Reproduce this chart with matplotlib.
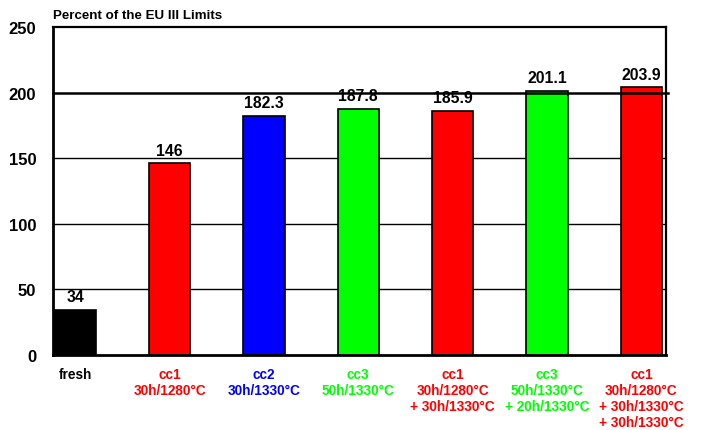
import matplotlib
matplotlib.use("Agg")
import matplotlib.pyplot as plt

categories = ["fresh",
              "cc1\n30h/1280°C",
              "cc2\n30h/1330°C",
              "cc3\n50h/1330°C",
              "cc1\n30h/1280°C\n+ 30h/1330°C",
              "cc3\n50h/1330°C\n+ 20h/1330°C",
              "cc1\n30h/1280°C\n+ 30h/1330°C\n+ 30h/1330°C"]
values = [34, 146, 182.3, 187.8, 185.9, 201.1, 203.9]
value_labels = ["34", "146", "182.3", "187.8", "185.9", "201.1", "203.9"]
colors = ["#000000", "#FF0000", "#0000FF", "#00FF00", "#FF0000", "#00FF00", "#FF0000"]
yticks = [0, 50, 100, 150, 200, 250]

plt.rcParams['font.family'] = ['Liberation Sans', 'DejaVu Sans']
plt.rcParams['font.weight'] = 'bold'

fig = plt.figure(figsize=(7.01, 4.31), dpi=100)
ax = fig.add_axes([0.0756, 0.174, 0.8744, 0.761])

x = list(range(len(values)))
ax.set_xlim(-0.235, 6.26)
ax.set_ylim(0, 250)

# horizontal grid lines behind the bars
for t in yticks[1:-1]:
    if t == 200:
        continue
    ax.axhline(t, color="black", lw=1.0, zorder=1)

ax.bar(x, values, width=0.44, color=colors, edgecolor="black", linewidth=1.2, zorder=2)

# the 100 % limit line at 200, drawn on top and slightly past the frame
ax.axhline(200, xmin=0, xmax=1.004, color="black", lw=1.8, zorder=3, clip_on=False)

for xi, v, lab in zip(x, values, value_labels):
    ax.text(xi, v + 4.5, lab, ha="center", va="bottom", fontsize=11.3,
            fontweight="bold", color="black")

ax.set_yticks(yticks)
ax.set_yticklabels([str(t) for t in yticks], fontsize=12, fontweight="bold")
ax.tick_params(axis="y", length=0, pad=12)
ax.set_xticks(x)
ax.set_xticklabels(categories, fontsize=9.8, fontweight="bold", linespacing=1.18)
ax.tick_params(axis="x", length=0, pad=8.5)
for lbl, c in zip(ax.get_xticklabels(), colors):
    lbl.set_color(c)
    lbl.set_verticalalignment("top")

for side, w in [("left", 2.0), ("bottom", 2.0), ("top", 1.6), ("right", 1.6)]:
    ax.spines[side].set_linewidth(w)
    ax.spines[side].set_color("black")

fig.text(0.0756, 0.948, "Percent of the EU III Limits", ha="left", va="bottom",
         fontsize=9.6, fontweight="bold")

fig.savefig("out.png", dpi=100)
